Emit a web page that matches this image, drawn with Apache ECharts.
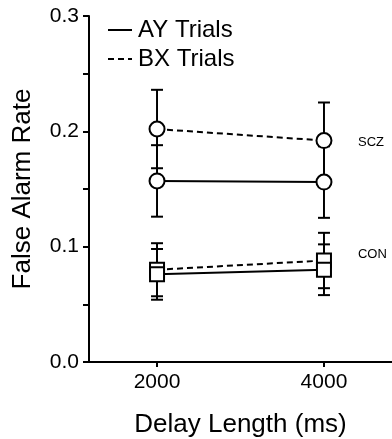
<!DOCTYPE html>
<html>
<head>
<meta charset="utf-8">
<script src="https://cdn.jsdelivr.net/npm/echarts@6/dist/echarts.min.js"></script>
<style>
  html, body { margin: 0; padding: 0; background: #fff; }
  #main { width: 392px; height: 439px; }
</style>
</head>
<body>
<div id="main"></div>
<script>
// delay lengths (ms)
var delays = [2000, 4000];

// false alarm rates, mean and error (from the figure)
var sczAY = [0.157, 0.156];
var sczAYErr = [0.031, 0.031];
var sczBX = [0.202, 0.192];
var sczBXErr = [0.034, 0.033];
var conAY = [0.076, 0.080];
var conAYErr = [0.022, 0.022];
var conBX = [0.080, 0.088];
var conBXErr = [0.023, 0.024];

var FONT = 'Liberation Sans, Arial, sans-serif';

function pts(vals) {
  return delays.map(function (d, i) { return [d, vals[i]]; });
}
function errPts(vals, errs) {
  return delays.map(function (d, i) { return [d, vals[i] - errs[i], vals[i] + errs[i]]; });
}

// error bar: vertical line + two caps
function errorBar(params, api) {
  var x = api.value(0);
  var lo = api.coord([x, api.value(1)]);
  var hi = api.coord([x, api.value(2)]);
  var hw = 6;
  var st = { stroke: '#000', lineWidth: 2 };
  return {
    type: 'group',
    children: [
      { type: 'line', shape: { x1: lo[0], y1: lo[1], x2: hi[0], y2: hi[1] }, style: st },
      { type: 'line', shape: { x1: lo[0] - hw, y1: lo[1], x2: lo[0] + hw, y2: lo[1] }, style: st },
      { type: 'line', shape: { x1: hi[0] - hw, y1: hi[1], x2: hi[0] + hw, y2: hi[1] }, style: st }
    ]
  };
}

function lineSeries(name, vals, dashed, symbol, endText, endOffset) {
  var s = {
    name: name,
    type: 'line',
    data: pts(vals),
    z: 3,
    symbol: symbol,
    symbolSize: symbol === 'rect' ? 14 : 15,
    showAllSymbol: true,
    itemStyle: { color: '#fff', borderColor: '#000', borderWidth: 2 },
    lineStyle: { color: '#000', width: 2, type: dashed ? [6, 4] : 'solid' },
    emphasis: { disabled: true }
  };
  if (endText) {
    s.endLabel = {
      show: true,
      formatter: endText,
      color: '#000',
      fontFamily: FONT,
      fontSize: 13,
      offset: endOffset
    };
  }
  return s;
}

function errSeries(vals, errs) {
  return {
    type: 'custom',
    renderItem: errorBar,
    data: errPts(vals, errs),
    z: 2,
    silent: true
  };
}

var myChart = echarts.init(document.getElementById('main'));
var option = {
  animation: false,
  backgroundColor: '#fff',
  grid: { left: 89, right: 0, top: 16, bottom: 77, outerBoundsMode: 'none', containLabel: false },
  legend: {
    orient: 'vertical',
    left: 102,
    top: 13,
    itemWidth: 24,
    itemHeight: 14,
    itemGap: 5,
    data: ['AY Trials', 'BX Trials'],
    selectedMode: false,
    itemStyle: { opacity: 0 },
    textStyle: { color: '#000', fontFamily: FONT, fontSize: 24, padding: [0, 0, 0, 1] }
  },
  xAxis: {
    type: 'value',
    min: 1185,
    max: 4815,
    name: 'Delay Length (ms)',
    nameLocation: 'middle',
    nameGap: 50,
    nameTextStyle: { color: '#000', fontFamily: FONT, fontSize: 26 },
    axisLine: { lineStyle: { color: '#000', width: 2 } },
    axisTick: { show: true, inside: false, length: 5, lineStyle: { color: '#000', width: 2 }, customValues: delays },
    axisLabel: {
      color: '#000', fontFamily: FONT, fontSize: 21, margin: 10, customValues: delays,
      formatter: function (v) { return String(v); }
    },
    splitLine: { show: false }
  },
  yAxis: {
    type: 'value',
    min: 0,
    max: 0.3,
    interval: 0.1,
    name: 'False Alarm Rate',
    nameLocation: 'middle',
    nameGap: 53,
    nameTextStyle: { color: '#000', fontFamily: FONT, fontSize: 26 },
    axisLine: { show: true, lineStyle: { color: '#000', width: 2 } },
    axisTick: { show: true, inside: false, length: 6, lineStyle: { color: '#000', width: 2 } },
    minorTick: { show: true, splitNumber: 2, length: 6, lineStyle: { color: '#000', width: 2 } },
    axisLabel: {
      color: '#000', fontFamily: FONT, fontSize: 21, margin: 10,
      formatter: function (v) { return v.toFixed(1); }
    },
    splitLine: { show: false }
  },
  series: [
    // legend-only entries
    { name: 'AY Trials', type: 'line', data: [], symbol: 'none', lineStyle: { color: '#000', width: 2 } },
    { name: 'BX Trials', type: 'line', data: [], symbol: 'none', lineStyle: { color: '#000', width: 2, type: [6, 4] } },

    errSeries(sczBX, sczBXErr),
    errSeries(sczAY, sczAYErr),
    errSeries(conBX, conBXErr),
    errSeries(conAY, conAYErr),

    lineSeries('SCZ BX', sczBX, true, 'circle', 'SCZ', [26, 2]),
    lineSeries('SCZ AY', sczAY, false, 'circle'),
    lineSeries('CON BX', conBX, true, 'rect', 'CON', [26, -6]),
    lineSeries('CON AY', conAY, false, 'rect')
  ]
};
myChart.setOption(option);
</script>
</body>
</html>
